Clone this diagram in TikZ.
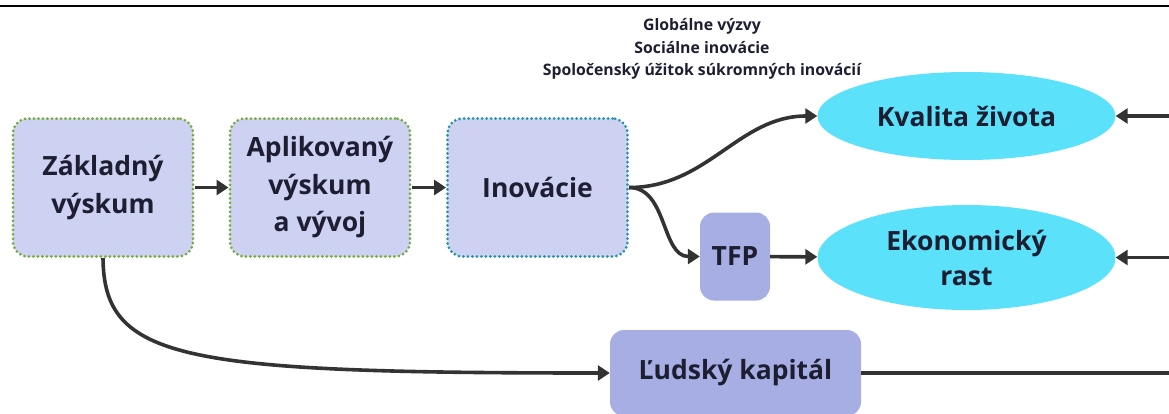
\documentclass[tikz,border=0pt]{standalone}
\usepackage{fontspec}
\setmainfont{Open Sans}
\usetikzlibrary{arrows.meta,shapes.geometric}
\definecolor{boxfill}{HTML}{CDD2F2}
\definecolor{darkfill}{HTML}{A6AEE4}
\definecolor{ellfill}{HTML}{5CE1FB}
\definecolor{greendot}{HTML}{74AA38}
\definecolor{tealdot}{HTML}{1F93A3}
\definecolor{txt}{HTML}{1E1E32}
\definecolor{conncol}{HTML}{333333}

\begin{document}
\begin{tikzpicture}[x=1pt,y=-1pt,
  every node/.style={text=txt,font=\bfseries,align=center},
  bigtext/.style={font=\bfseries\fontsize{26.5}{37.5}\selectfont},
  stage/.style={bigtext,rounded corners=15pt,fill=boxfill,draw=greendot,
    line width=3pt,line cap=round,dash pattern=on 0pt off 4.5pt,
    minimum width=180pt,minimum height=138pt,inner sep=0pt},
  plain/.style={bigtext,rounded corners=14pt,fill=darkfill,inner sep=0pt},
  goal/.style={bigtext,ellipse,fill=ellfill,inner sep=0pt,
    minimum width=298pt},
  conn/.style={draw=conncol,line width=3.6pt,-{Triangle[length=12pt,width=15pt]}}]

  \useasboundingbox (0,0) rectangle (1169,413);
  \draw[line width=1.4pt] (0,6) -- (1169,6);

  % top notes
  \node[font=\bfseries\fontsize{15.8}{22.5}\selectfont] (notes) at (702,49)
    {Globálne výzvy\\ Sociálne inovácie\\ Spoločenský úžitok súkromných inovácií};

  % main chain
  \node[stage] (zak) at (103,187.5) {Základný\\ výskum};
  \node[stage] (apl) at (320,187.5) {Aplikovaný\\ výskum\\ a vývoj};
  \node[stage,draw=tealdot] (ino) at (537.5,187.5) {Inovácie};
  \node[plain,minimum width=70pt,minimum height=88pt] (tfp) at (735,256.5) {TFP};
  \node[plain,minimum width=251pt,minimum height=86pt] (lud) at (735.5,373) {Ľudský kapitál};

  % goals
  \node[goal,minimum height=88pt] (kval) at (966.5,116) {Kvalita života};
  \node[goal,minimum height=105pt,font=\bfseries\fontsize{26.5}{35}\selectfont] (eko) at (966.5,257.5) {Ekonomický\\ rast};

  % feedback from the right edge
  \coordinate (kin) at (1169,116);
  \coordinate (ein) at (1169,257.5);
  \coordinate (lout) at (1169,373);

  \draw[conn] (zak) -- (apl);
  \draw[conn] (apl) -- (ino);
  \draw[conn] (ino.east) to[out=0,in=180] (kval.west);
  \draw[conn] (ino.east) to[out=0,in=180] (tfp.west);
  \draw[conn] (tfp) -- (eko);
  \draw[conn] (kin) -- (kval.east);
  \draw[conn] (ein) -- (eko.east);
  \draw[conn] (zak.south) .. controls (104,360) and (180,373) .. (lud.west);
  \draw[conn,-] (lud.east) -- (lout);
\end{tikzpicture}
\end{document}
